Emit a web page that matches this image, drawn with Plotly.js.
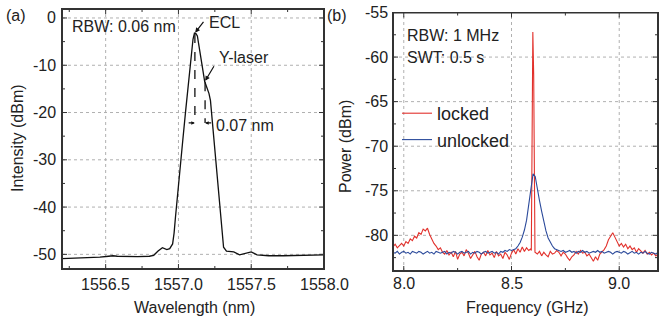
<!DOCTYPE html>
<html><head><meta charset="utf-8">
<script src="https://cdn.plot.ly/plotly-3.0.1.min.js"></script>
<style>html,body{margin:0;padding:0;background:#fff}#chart{width:659px;height:322px}</style>
</head><body><div id="chart"></div>
<script>
// Panel (a): optical spectrum
var wavelength = [1556.20,1556.30,1556.40,1556.46,1556.52,1556.55,1556.58,1556.64,1556.72,1556.80,1556.83,1556.86,1556.89,1556.92,1556.94,1556.96,1556.97,1556.98,1556.99,1557.00,1557.01,1557.03,1557.05,1557.07,1557.09,1557.10,1557.11,1557.12,1557.13,1557.15,1557.165,1557.18,1557.195,1557.21,1557.22,1557.235,1557.25,1557.265,1557.28,1557.29,1557.30,1557.31,1557.33,1557.38,1557.42,1557.47,1557.50,1557.54,1557.62,1557.72,1557.85,1558.00];
var intensity = [-50.9,-50.8,-50.7,-50.6,-50.4,-50.3,-50.4,-50.5,-50.5,-50.4,-50.2,-49.3,-48.6,-49.0,-48.8,-47.8,-45.5,-42.0,-38.5,-35.5,-32.5,-25.8,-19.5,-13.3,-7.5,-4.5,-3.2,-3.3,-3.8,-7.2,-10.5,-13.4,-14.5,-16.0,-17.5,-22.5,-28.0,-33.0,-37.5,-42.0,-45.5,-48.5,-49.3,-49.5,-50.1,-49.7,-49.5,-50.1,-50.3,-50.3,-50.2,-50.1];

// Panel (b): RF spectra
var freqLocked = [7.95,7.96,7.97,7.98,7.99,8.00,8.01,8.02,8.03,8.04,8.05,8.06,8.07,8.08,8.09,8.10,8.11,8.12,8.13,8.14,8.15,8.16,8.17,8.18,8.19,8.20,8.21,8.22,8.23,8.24,8.25,8.26,8.27,8.28,8.29,8.30,8.31,8.32,8.33,8.34,8.35,8.36,8.37,8.38,8.39,8.40,8.41,8.42,8.43,8.44,8.45,8.46,8.47,8.48,8.49,8.50,8.51,8.52,8.53,8.54,8.55,8.56,8.57,8.58,8.59,8.592,8.596,8.599,8.603,8.609,8.62,8.63,8.64,8.65,8.66,8.67,8.68,8.69,8.70,8.71,8.72,8.73,8.74,8.75,8.76,8.77,8.78,8.79,8.80,8.81,8.82,8.83,8.84,8.85,8.86,8.87,8.88,8.89,8.90,8.91,8.92,8.93,8.94,8.95,8.96,8.97,8.98,8.99,9.00,9.01,9.02,9.03,9.04,9.05,9.06,9.07,9.08,9.09,9.10,9.11,9.12,9.13,9.14,9.15,9.16,9.17,9.18];
var powerLocked = [-81.3,-81.0,-81.4,-81.1,-80.9,-81.2,-80.7,-80.9,-80.4,-80.6,-80.1,-80.3,-79.7,-79.9,-79.3,-79.5,-79.2,-79.9,-80.4,-80.9,-81.2,-81.6,-81.4,-81.9,-82.1,-81.7,-82.2,-81.9,-82.4,-81.8,-82.7,-82.1,-81.9,-82.3,-81.6,-82.0,-82.6,-82.2,-81.8,-82.4,-82.8,-82.1,-81.9,-82.3,-81.7,-82.2,-82.0,-82.5,-81.8,-82.3,-82.1,-82.6,-81.9,-82.2,-82.7,-82.0,-81.6,-82.1,-81.5,-81.9,-81.3,-81.8,-81.4,-81.7,-81.5,-81.7,-58.5,-57.2,-62.0,-81.9,-82.1,-81.8,-82.3,-81.9,-82.2,-82.4,-81.8,-82.1,-82.0,-81.7,-81.9,-82.3,-81.9,-82.1,-82.5,-82.8,-82.4,-82.2,-81.8,-82.1,-81.7,-82.0,-81.9,-82.3,-82.1,-82.5,-82.9,-82.4,-82.8,-82.1,-81.9,-81.6,-81.2,-80.5,-80.1,-79.7,-80.2,-80.8,-81.2,-80.9,-81.3,-81.0,-81.5,-81.2,-81.6,-81.4,-81.9,-81.5,-81.8,-82.0,-81.7,-82.1,-81.9,-82.2,-82.0,-82.3,-82.1];
var freqUnlocked = [7.95,7.96,7.97,7.98,7.99,8.00,8.01,8.02,8.03,8.04,8.05,8.06,8.07,8.08,8.09,8.10,8.11,8.12,8.13,8.14,8.15,8.16,8.17,8.18,8.19,8.20,8.21,8.22,8.23,8.24,8.25,8.26,8.27,8.28,8.29,8.30,8.31,8.32,8.33,8.34,8.35,8.36,8.37,8.38,8.39,8.40,8.41,8.42,8.43,8.44,8.45,8.46,8.47,8.48,8.49,8.50,8.51,8.52,8.53,8.54,8.55,8.56,8.57,8.58,8.59,8.60,8.61,8.62,8.63,8.64,8.65,8.66,8.67,8.68,8.69,8.70,8.71,8.72,8.73,8.74,8.75,8.76,8.77,8.78,8.79,8.80,8.81,8.82,8.83,8.84,8.85,8.86,8.87,8.88,8.89,8.90,8.91,8.92,8.93,8.94,8.95,8.96,8.97,8.98,8.99,9.00,9.01,9.02,9.03,9.04,9.05,9.06,9.07,9.08,9.09,9.10,9.11,9.12,9.13,9.14,9.15,9.16,9.17,9.18];
var powerUnlocked = [-81.9,-82.0,-81.8,-82.1,-81.9,-81.8,-82.0,-81.9,-82.1,-81.8,-81.9,-82.0,-81.8,-81.9,-82.1,-81.9,-81.8,-82.0,-81.9,-82.1,-81.8,-81.9,-82.0,-81.9,-81.8,-82.1,-81.9,-82.0,-81.8,-81.9,-82.1,-81.9,-81.8,-82.0,-81.9,-81.8,-82.1,-81.9,-82.0,-81.8,-81.9,-82.1,-81.9,-81.8,-82.0,-81.9,-81.8,-82.0,-81.9,-82.1,-81.8,-81.9,-81.7,-81.8,-81.6,-81.7,-81.6,-81.5,-81.2,-80.8,-80.2,-79.4,-78.3,-76.6,-74.5,-73.1,-73.4,-74.9,-76.1,-77.3,-78.5,-79.5,-80.3,-80.8,-81.2,-81.5,-81.6,-81.7,-81.8,-81.7,-81.9,-81.8,-81.7,-81.9,-81.8,-82.0,-81.8,-81.9,-81.7,-81.9,-81.8,-82.0,-81.9,-81.8,-81.9,-81.7,-81.9,-81.8,-82.0,-81.9,-81.8,-81.9,-82.1,-81.9,-81.8,-81.9,-82.0,-81.8,-81.9,-82.1,-81.9,-81.8,-82.0,-81.9,-82.1,-81.9,-82.0,-81.8,-82.0,-82.1,-81.9,-82.0,-82.1,-81.9];

// Tick values
var wlTicks = [1556.5, 1557.0, 1557.5, 1558.0];
var wlMinor = [1556.25, 1556.75, 1557.25, 1557.75];
var intTicks = [0, -10, -20, -30, -40, -50];
var intMinor = [-5, -15, -25, -35, -45];
var fqTicks = [8.0, 8.5, 9.0];
var fqMinor = [8.25, 8.75];
var pwTicks = [-55, -60, -65, -70, -75, -80];
var pwMinor = [-57.5, -62.5, -67.5, -72.5, -77.5, -82.5];

var W = 659, H = 322;
var FONT = 'Liberation Sans, Arial, sans-serif';
var TXT = '#222';
var LINE = '#333';
function px(x){return x/W;}
function py(y){return 1 - y/H;}

var wlRange = [1556.2, 1558.0], intRange = [-53.1, 1.9];
var fqRange = [7.95, 9.18], pwRange = [-84, -55];

var traces = [
  {x: wavelength, y: intensity, type:'scatter', mode:'lines', line:{color:'#111', width:1.3}, xaxis:'x', yaxis:'y', showlegend:false},
  {x: freqLocked, y: powerLocked, type:'scatter', mode:'lines', name:'locked', line:{color:'#e2312c', width:1.1}, xaxis:'x2', yaxis:'y2'},
  {x: freqUnlocked, y: powerUnlocked, type:'scatter', mode:'lines', name:'unlocked', line:{color:'#2b4a9b', width:1.1}, xaxis:'x2', yaxis:'y2'}
];

function axis(dom, rng, an){
  return {domain:dom, range:rng, anchor:an, showline:true, linecolor:LINE, linewidth:1, mirror:true,
    showgrid:false, zeroline:false, ticks:'', showticklabels:false, fixedrange:true};
}
var xa = axis([px(62), px(324)], wlRange, 'y');
var ya = axis([py(269), py(9)], intRange, 'x');
var xb = axis([px(393), px(658)], fqRange, 'y2');
var yb = axis([py(271), py(12.5)], pwRange, 'x2');

var shapes = [];
var annotations = [];

// frame, grid, ticks and tick labels drawn in data coordinates of one panel
function panel(xr, yr, xt, xm, yt, ym, wpx, hpx, xR, yR, xLabShift, yLabShift){
  var dxPerPx = (xR[1] - xR[0]) / wpx, dyPerPx = (yR[1] - yR[0]) / hpx;
  function seg(x0, y0, x1, y1, col, w, dash, layer){
    shapes.push({type:'line', layer:layer || 'above', xref:xr, yref:yr, x0:x0, y0:y0, x1:x1, y1:y1, line:{color:col, width:w, dash:dash || 'solid'}});
  }
  xt.forEach(function(v){
    if (v > xR[0] + 1e-9 && v < xR[1] - 1e-9) seg(v, yR[0], v, yR[1], '#b0b0b0', 1, 'dot', 'below');
    seg(v, yR[0], v, yR[0] + 5 * dyPerPx, LINE, 1);
    seg(v, yR[1], v, yR[1] - 5 * dyPerPx, LINE, 1);
    annotations.push({text:v.toFixed(1), xref:xr, yref:yr, x:v, y:yR[0], yshift:xLabShift, xanchor:'center', yanchor:'middle', showarrow:false, font:{family:FONT, size:16, color:TXT}});
  });
  xm.forEach(function(v){
    seg(v, yR[0], v, yR[0] + 3 * dyPerPx, LINE, 1);
    seg(v, yR[1], v, yR[1] - 3 * dyPerPx, LINE, 1);
  });
  yt.forEach(function(v){
    if (v > yR[0] + 1e-9 && v < yR[1] - 1e-9) seg(xR[0], v, xR[1], v, '#b0b0b0', 1, 'dot', 'below');
    seg(xR[0], v, xR[0] + 5 * dxPerPx, v, LINE, 1);
    seg(xR[1], v, xR[1] - 5 * dxPerPx, v, LINE, 1);
    annotations.push({text:String(v), xref:xr, yref:yr, x:xR[0], y:v, xshift:yLabShift, xanchor:'right', yanchor:'middle', showarrow:false, font:{family:FONT, size:16, color:TXT}});
  });
  ym.forEach(function(v){
    seg(xR[0], v, xR[0] + 3 * dxPerPx, v, LINE, 1);
    seg(xR[1], v, xR[1] - 3 * dxPerPx, v, LINE, 1);
  });
  // frame (drawn 2px wide so that the half inside the clipped plot area remains)
  seg(xR[0], yR[0], xR[1], yR[0], LINE, 2);
  seg(xR[0], yR[1], xR[1], yR[1], LINE, 2);
  seg(xR[0], yR[0], xR[0], yR[1], LINE, 2);
  seg(xR[1], yR[0], xR[1], yR[1], LINE, 2);
}
panel('x', 'y', wlTicks, wlMinor, intTicks, intMinor, 262, 260, wlRange, intRange, -15, -4);
panel('x2', 'y2', fqTicks, fqMinor, pwTicks, pwMinor, 265, 258.5, fqRange, pwRange, -12, -3);

// dashed markers of the two peaks
shapes.push({type:'line', xref:'x', yref:'y', x0:1557.113, x1:1557.113, y0:-3.4, y1:-22.2, line:{color:'#111', width:1.3, dash:'dash'}});
shapes.push({type:'line', xref:'x', yref:'y', x0:1557.183, x1:1557.183, y0:-13.6, y1:-22.2, line:{color:'#111', width:1.3, dash:'dash'}});

function txt(t, x, y, size, opts){
  return Object.assign({text:t, xref:'paper', yref:'paper', x:px(x), y:py(y), xanchor:'center', yanchor:'middle', showarrow:false, font:{family:FONT, size:size||16, color:TXT}}, opts||{});
}
annotations = annotations.concat([
  txt('(a)', 16, 15, 16),
  txt('(b)', 337, 15, 16),
  txt('Wavelength (nm)', 194, 307, 16),
  txt('Frequency (GHz)', 527, 307, 16),
  txt('Intensity (dBm)', 17, 138, 16, {textangle:-90}),
  txt('Power (dBm)', 345, 147, 16, {textangle:-90}),
  txt('RBW: 0.06 nm', 70, 27, 16, {xanchor:'left'}),
  txt('ECL', 207, 22, 16, {xanchor:'left'}),
  txt('Y-laser', 217, 57, 16, {xanchor:'left'}),
  txt('0.07 nm', 214, 125, 16, {xanchor:'left'}),
  txt('RBW: 1 MHz', 405, 35, 16, {xanchor:'left'}),
  txt('SWT: 0.5 s', 405, 57, 16, {xanchor:'left'}),
  {xref:'x', yref:'y', x:1557.115, y:-3.1, axref:'x', ayref:'y', ax:1557.18, ay:-0.5, showarrow:true, arrowhead:2, arrowsize:0.8, arrowwidth:1.2, arrowcolor:'#111', text:''},
  {xref:'x', yref:'y', x:1557.184, y:-13.3, axref:'x', ayref:'y', ax:1557.25, ay:-9.9, showarrow:true, arrowhead:2, arrowsize:0.8, arrowwidth:1.2, arrowcolor:'#111', text:''},
  {xref:'x', yref:'y', x:1557.113, y:-22.2, axref:'x', ayref:'y', ax:1557.06, ay:-22.2, showarrow:true, arrowhead:2, arrowsize:0.6, arrowwidth:1.2, arrowcolor:'#111', text:''},
  {xref:'x', yref:'y', x:1557.183, y:-22.2, axref:'x', ayref:'y', ax:1557.235, ay:-22.2, showarrow:true, arrowhead:2, arrowsize:0.6, arrowwidth:1.2, arrowcolor:'#111', text:''}
]);

var layout = {
  width:W, height:H, margin:{l:0,r:0,t:0,b:0},
  paper_bgcolor:'#fff', plot_bgcolor:'#fff',
  font:{family:FONT, size:16, color:TXT},
  xaxis:xa, yaxis:ya, xaxis2:xb, yaxis2:yb,
  showlegend:true,
  legend:{x:px(397), y:py(95), xanchor:'left', yanchor:'top', bgcolor:'rgba(0,0,0,0)', font:{family:FONT, size:18, color:TXT}, tracegroupgap:0},
  annotations:annotations, shapes:shapes
};

Plotly.newPlot('chart', traces, layout, {displayModeBar:false});
</script>
</body></html>
